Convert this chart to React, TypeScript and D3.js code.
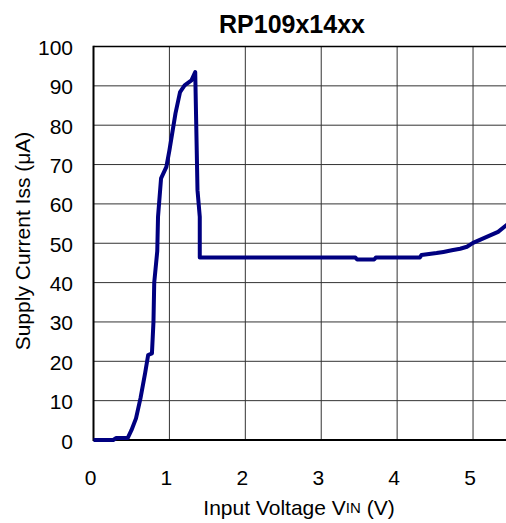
import { useEffect, useRef } from "react";
import * as d3 from "d3";

const vin = [0, 0.26, 0.3, 0.45, 0.5, 0.56, 0.62, 0.68, 0.72, 0.77, 0.79, 0.8, 0.84, 0.85, 0.89, 0.96, 1.0, 1.08, 1.14, 1.2, 1.29, 1.34, 1.36, 1.37, 1.4, 1.4, 2.0, 3.0, 3.45, 3.47, 3.7, 3.72, 4.3, 4.32, 4.52, 4.61, 4.72, 4.83, 4.92, 5.0, 5.18, 5.33, 5.5];
const iss = [0, 0, 0.5, 0.5, 2.5, 5.5, 10.7, 17, 21.6, 22, 30, 40, 48, 56.7, 66.5, 69.4, 73.6, 83, 88.4, 90.1, 91.4, 93.5, 73.6, 63.5, 56.7, 46.4, 46.4, 46.4, 46.4, 45.9, 45.9, 46.4, 46.4, 47, 47.5, 47.8, 48.2, 48.6, 49.1, 50.1, 51.6, 52.9, 55.5];

const xTicks = [0, 1, 2, 3, 4, 5];
const yTicks = [0, 10, 20, 30, 40, 50, 60, 70, 80, 90, 100];

const font = "'Liberation Sans', Arial, sans-serif";

export default function App() {
  const svgRef = useRef<SVGSVGElement>(null);

  useEffect(() => {
    if (!svgRef.current) return;
    const width = 506;
    const height = 523;
    const svg = d3.select(svgRef.current);
    svg.selectAll("*").remove();
    svg.attr("width", width).attr("height", height);

    const x = d3.scaleLinear().domain([0, 5.5]).range([93.5, 511]);
    const y = d3.scaleLinear().domain([0, 100]).range([440, 46.5]);

    // grid
    svg.selectAll(".vgrid")
      .data(xTicks.slice(1))
      .join("line")
      .attr("x1", (d) => x(d)).attr("x2", (d) => x(d))
      .attr("y1", y(100)).attr("y2", y(0))
      .attr("stroke", "#333").attr("stroke-width", 1);

    svg.selectAll(".hgrid")
      .data(yTicks.slice(1, -1))
      .join("line")
      .attr("x1", x(0)).attr("x2", width)
      .attr("y1", (d) => y(d)).attr("y2", (d) => y(d))
      .attr("stroke", "#333").attr("stroke-width", 1);

    // frame
    svg.append("line").attr("x1", x(0)).attr("x2", width).attr("y1", y(100)).attr("y2", y(100))
      .attr("stroke", "#000").attr("stroke-width", 1.5);
    svg.append("line").attr("x1", x(0)).attr("x2", width).attr("y1", y(0)).attr("y2", y(0))
      .attr("stroke", "#000").attr("stroke-width", 2);
    svg.append("line").attr("x1", x(0)).attr("x2", x(0)).attr("y1", y(100) - 0.75).attr("y2", y(0) + 1)
      .attr("stroke", "#000").attr("stroke-width", 2);

    // tick labels
    svg.selectAll(".ylab")
      .data(yTicks)
      .join("text")
      .attr("x", 73)
      .attr("y", (d) => y(d) + 1)
      .attr("text-anchor", "end")
      .attr("dominant-baseline", "central")
      .attr("font-family", font)
      .attr("font-size", "21px")
      .attr("fill", "#000")
      .text((d) => d);

    svg.selectAll(".xlab")
      .data(xTicks)
      .join("text")
      .attr("x", (d) => x(d) - 3)
      .attr("y", 477)
      .attr("text-anchor", "middle")
      .attr("dominant-baseline", "central")
      .attr("font-family", font)
      .attr("font-size", "21px")
      .attr("fill", "#000")
      .text((d) => d);

    // data line
    const pts = vin.map((v, i) => [v, iss[i]] as [number, number]);
    const line = d3.line<[number, number]>().x((d) => x(d[0])).y((d) => y(d[1]));
    svg.append("path")
      .attr("d", line(pts))
      .attr("fill", "none")
      .attr("stroke", "#000080")
      .attr("stroke-width", 4)
      .attr("stroke-linejoin", "round");

    // title
    svg.append("text")
      .attr("x", 292).attr("y", 24)
      .attr("text-anchor", "middle").attr("dominant-baseline", "central")
      .attr("font-family", font).attr("font-size", "25px").attr("font-weight", "bold")
      .text("RP109x14xx");

    // x axis title
    const xt = svg.append("text")
      .attr("x", 299).attr("y", 507)
      .attr("text-anchor", "middle").attr("dominant-baseline", "central")
      .attr("font-family", font).attr("font-size", "21px");
    xt.append("tspan").text("Input Voltage V");
    xt.append("tspan").attr("font-size", "15px").text("IN");
    xt.append("tspan").text(" (V)");

    // y axis title
    svg.append("text")
      .attr("transform", `translate(22, 241) rotate(-90)`)
      .attr("text-anchor", "middle").attr("dominant-baseline", "central")
      .attr("font-family", font).attr("font-size", "21px")
      .text("Supply Current Iss (μA)");
  }, []);

  return (
    <div style={{ position: "absolute", left: 0, top: 0, width: 506, height: 523, overflow: "hidden" }}>
      <svg ref={svgRef} style={{ display: "block" }} />
    </div>
  );
}
